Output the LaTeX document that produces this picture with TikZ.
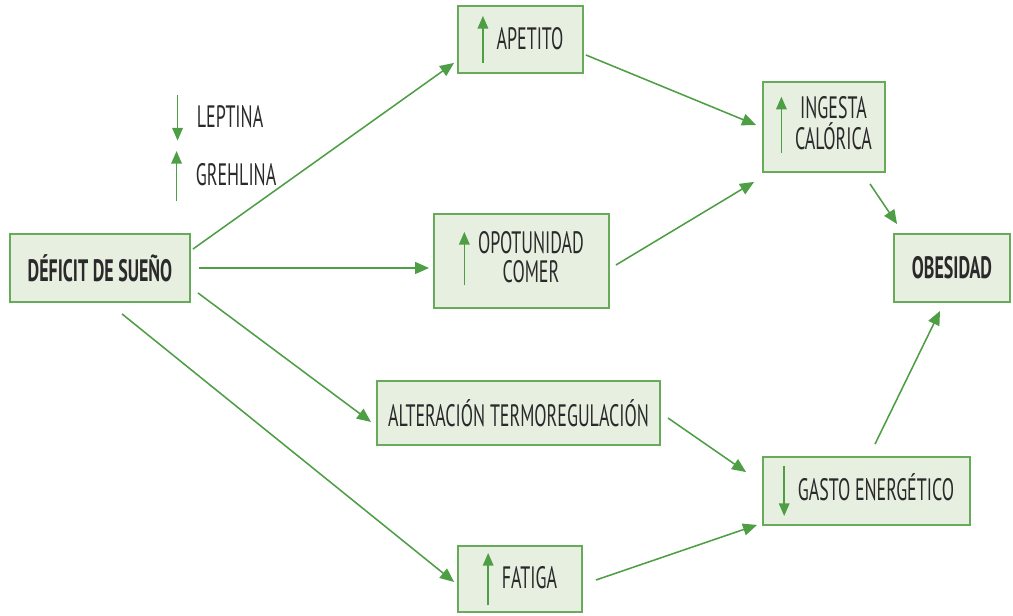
\documentclass[tikz,border=0pt]{standalone}
\usepackage{fontspec}
\setmainfont{PT Sans}[FakeStretch=0.58]
\usepackage{tikz}
\usetikzlibrary{arrows.meta,positioning,calc}

\definecolor{verdeflecha}{HTML}{4E9E45}
\definecolor{verdeborde}{HTML}{66AA5A}
\definecolor{verdefondo}{HTML}{E7EFE1}
\definecolor{gristexto}{HTML}{2A2A2A}

\tikzset{
    flechita/.style={-{Triangle[length=9pt,width=7.5pt]},verdeflecha,line width=1.1pt},
    conector/.style={-{Triangle[length=10pt,width=8.5pt]},verdeflecha,line width=1.1pt},
    caja/.style={draw=verdeborde,fill=verdefondo,line width=1.3pt,inner sep=0pt,
        text=gristexto,font=\fontsize{22}{20}\selectfont},
    leyenda/.style={inner sep=0pt,text=gristexto,font=\fontsize{22}{20}\selectfont}
}
\newcommand{\flechasube}[1]{\tikz[x=1cm,y=1cm,baseline={([yshift=-7pt]current bounding box.center)}]\draw[flechita] (0,0) -- (0,#1);}
\newcommand{\flechabaja}[1]{\tikz[x=1cm,y=1cm,baseline={([yshift=-7pt]current bounding box.center)}]\draw[flechita] (0,#1) -- (0,0);}

\begin{document}
\begin{tikzpicture}[x=0.025cm,y=-0.025cm]
    \useasboundingbox (0,0) rectangle (1013,616);

    % Causa
    \node[caja,minimum width=4.5cm,minimum height=1.7cm] (deficit) at (100,268) {\textbf{DÉFICIT DE SUEÑO}};

    % Leyenda hormonas
    \node[leyenda,anchor=west] (leptina) at (172,118) {\flechabaja{1.13}\hspace{10pt}LEPTINA};
    \node[leyenda,anchor=west] (grehlina) at (171,176) {\flechasube{1.25}\hspace{10pt}GREHLINA};

    % Mecanismos
    \node[caja,minimum width=3.125cm,minimum height=1.675cm] (apetito) at (520.5,39.5) {\flechasube{1.18}\hspace{6pt}APETITO};
    \node[caja,minimum width=4.375cm,minimum height=2.35cm] (oportunidad) at (521.5,261) {\flechasube{1.33}\hspace{6pt}\begin{tabular}{@{}c@{}}OPOTUNIDAD\\[-1pt]COMER\end{tabular}};
    \node[caja,minimum width=7.075cm,minimum height=1.6cm] (alteracion) at (518.5,413) {ALTERACIÓN TERMOREGULACIÓN};
    \node[caja,minimum width=3.1cm,minimum height=1.65cm] (fatiga) at (520,579) {\flechasube{1.3}\hspace{6pt}FATIGA};

    % Balance
    \node[caja,minimum width=3.05cm,minimum height=2.25cm] (ingesta) at (824,127) {\flechasube{1.4}\hspace{6pt}\begin{tabular}{@{}c@{}}INGESTA\\[-3pt]CALÓRICA\end{tabular}};
    \node[caja,minimum width=5.175cm,minimum height=1.7cm] (gasto) at (866.5,491) {\flechabaja{1.25}\hspace{6pt}GASTO ENERGÉTICO};

    % Efecto
    \node[caja,minimum width=2.9cm,minimum height=1.7cm] (obesidad) at (952,268) {\textbf{OBESIDAD}};

    % Flechas desde el deficit
    \draw[conector] ($(deficit.north east)+(2,16)$) -- ($(apetito.south west)+(-3,-11)$);
    \draw[conector] ($(deficit.east)+(8,0)$) -- ($(deficit.east -| oportunidad.west)+(-4,0)$);
    \draw[conector] ($(deficit.south east)+(7,-10)$) -- ($(alteracion.west)+(-5,9)$);
    \draw[conector] ($(deficit.south)+(22,11)$) -- ($(fatiga.west)+(-3,3)$);

    % Flechas hacia el balance
    \draw[conector] ($(apetito.east)+(2,15.5)$) -- ($(ingesta.west)+(-6,-2)$);
    \draw[conector] ($(oportunidad.east)+(6,4)$) -- ($(ingesta.south west)+(-8,9)$);
    \draw[conector] ($(alteracion.east)+(7,5)$) -- ($(gasto.north west)+(-16,16)$);
    \draw[conector] ($(fatiga.east)+(13,1)$) -- ($(gasto.south west)+(-5,-1)$);

    % Flechas hacia la obesidad
    \draw[conector] ($(ingesta.south)+(46,11)$) -- ($(obesidad.north west)+(4,-9)$);
    \draw[conector] ($(gasto.north)+(8.5,-12)$) -- ($(obesidad.south)+(-12,8)$);
\end{tikzpicture}
\end{document}
